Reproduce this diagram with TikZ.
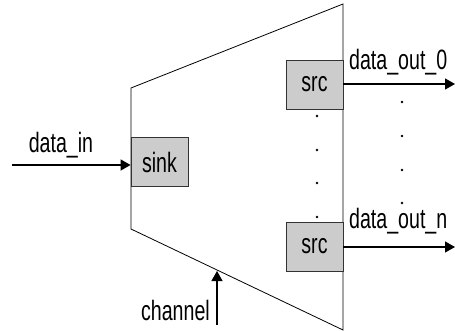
\documentclass[tikz,border=0pt]{standalone}
\usepackage{fontspec}
\setmainfont{Liberation Sans}[FakeStretch=0.7]
\usepackage{tikz}
\usetikzlibrary{arrows.meta,calc,positioning}

\tikzset{
  blk/.style={draw=black!80,fill=black!20,line width=0.8pt,minimum width=57pt,minimum height=49pt,inner sep=0pt,font=\fontsize{28}{32}\selectfont},
  lbl/.style={inner sep=0pt,font=\fontsize{28}{32}\selectfont},
  sig/.style={line width=1.2pt,-{Triangle[length=10pt,width=11pt]}}
}

\begin{document}
\begin{tikzpicture}[x=1pt,y=-1pt]
    \useasboundingbox (0,0) rectangle (455,331);
    % Trapezoid outline
    \draw[line width=0.8pt] (131,88) -- (343,4) -- (343,330) -- (131,229) -- cycle;
    % Blocks
    \node[blk] (sink) at (159.5,162) {sink};
    \node[blk] (src0) at (314.5,84.5) {src};
    \node[blk] (srcn) at (314.5,246.5) {src};
    % Dots between the sources
    \foreach \y in {116,150,183,217} \fill (317,\y) circle (1.3);
    \foreach \y in {102,136,170,203} \fill (402,\y) circle (1.3);
    % Input
    \coordinate (in) at (12,165);
    \draw[sig] (in) -- (in -| sink.west);
    \node[lbl] (datain) at (61,145) {data\_in};
    % Outputs
    \coordinate (out0) at (455,84);
    \coordinate (outn) at (455,247);
    \draw[sig] (src0.east |- out0) -- (out0);
    \draw[sig] (srcn.east |- outn) -- (outn);
    \node[lbl,anchor=west] (dout0) at (349,62) {data\_out\_0};
    \node[lbl,anchor=west] (doutn) at (349,221) {data\_out\_n};
    % Channel
    \coordinate (ch) at (217,325);
    \coordinate (edge) at (217,271);
    \draw[sig] (ch) -- (edge);
    \node[lbl,anchor=east] (chan) at (210,310) {channel};
\end{tikzpicture}
\end{document}
